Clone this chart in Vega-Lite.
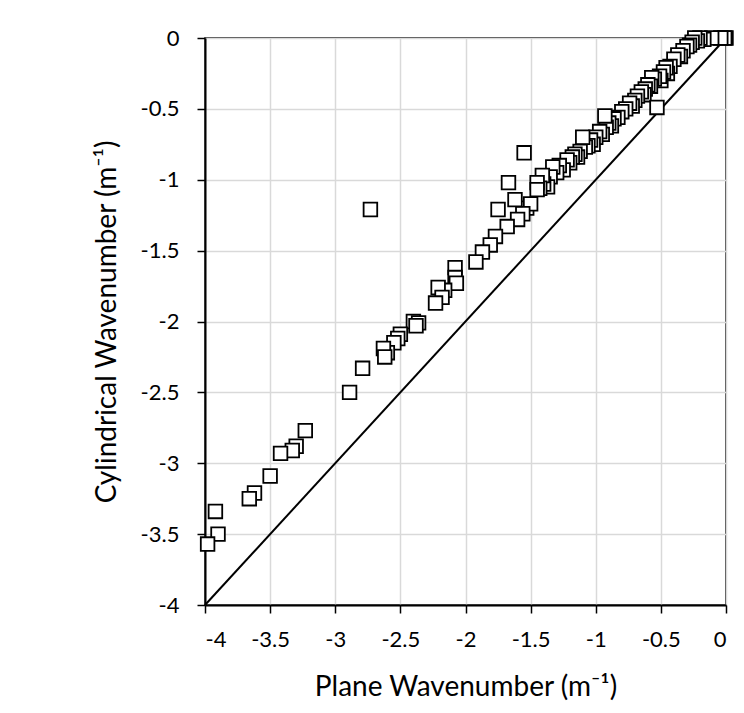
{
  "$schema": "https://vega.github.io/schema/vega-lite/v6.json",
  "width": 521,
  "height": 567,
  "autosize": {"type": "none"},
  "padding": {"left": 205, "top": 38, "right": 18, "bottom": 108},
  "background": "white",
  "config": {
    "view": {"stroke": "black", "strokeWidth": 1.5},
    "font": "Lato",
    "axis": {
      "grid": true,
      "gridColor": "#d9d9d9",
      "gridWidth": 1.5,
      "domain": true,
      "domainColor": "black",
      "domainWidth": 2,
      "ticks": true,
      "tickColor": "black",
      "tickWidth": 1.5,
      "tickSize": 8,
      "labelColor": "black",
      "labelFontSize": 22,
      "labelFont": "Lato",
      "titleColor": "black",
      "titleFont": "Lato",
      "titleFontSize": 28,
      "titleFontWeight": "normal",
      "labelExpr": "datum.value + ''"
    }
  },
  "datasets": {
    "diag": [{"x": -4, "y": -4}, {"x": 0, "y": 0}],
    "pts": [
      {"x": 0, "y": 0}, {"x": -0.01, "y": 0}, {"x": -0.04, "y": 0}, {"x": -0.11, "y": 0},
      {"x": -0.17, "y": -0.01}, {"x": -0.2, "y": 0}, {"x": -0.22, "y": -0.02}, {"x": -0.24, "y": 0}, {"x": -0.26, "y": -0.03},
      {"x": -0.28, "y": -0.05}, {"x": -0.3, "y": -0.06}, {"x": -0.33, "y": -0.09}, {"x": -0.35, "y": -0.13}, {"x": -0.37, "y": -0.12}, {"x": -0.4, "y": -0.15},
      {"x": -0.43, "y": -0.2}, {"x": -0.45, "y": -0.25}, {"x": -0.46, "y": -0.21}, {"x": -0.48, "y": -0.24}, {"x": -0.5, "y": -0.3}, {"x": -0.51, "y": -0.27},
      {"x": -0.55, "y": -0.29}, {"x": -0.57, "y": -0.28}, {"x": -0.58, "y": -0.34}, {"x": -0.6, "y": -0.33}, {"x": -0.62, "y": -0.36}, {"x": -0.63, "y": -0.4},
      {"x": -0.65, "y": -0.38}, {"x": -0.68, "y": -0.41}, {"x": -0.7, "y": -0.44}, {"x": -0.72, "y": -0.48}, {"x": -0.74, "y": -0.46},
      {"x": -0.77, "y": -0.5}, {"x": -0.8, "y": -0.52}, {"x": -0.83, "y": -0.56}, {"x": -0.86, "y": -0.57}, {"x": -0.88, "y": -0.62},
      {"x": -0.9, "y": -0.6}, {"x": -0.92, "y": -0.63}, {"x": -0.93, "y": -0.55}, {"x": -0.95, "y": -0.68}, {"x": -0.97, "y": -0.66},
      {"x": -1.0, "y": -0.7}, {"x": -1.02, "y": -0.75}, {"x": -1.04, "y": -0.72}, {"x": -1.06, "y": -0.76}, {"x": -1.08, "y": -0.77}, {"x": -1.1, "y": -0.7},
      {"x": -1.12, "y": -0.8}, {"x": -1.14, "y": -0.84}, {"x": -1.16, "y": -0.82}, {"x": -1.18, "y": -0.84}, {"x": -1.2, "y": -0.88}, {"x": -1.22, "y": -0.86},
      {"x": -1.25, "y": -0.93}, {"x": -1.28, "y": -0.9}, {"x": -1.3, "y": -0.95}, {"x": -1.33, "y": -0.91}, {"x": -1.35, "y": -0.98},
      {"x": -1.37, "y": -1.05}, {"x": -1.4, "y": -1.03}, {"x": -1.41, "y": -0.97}, {"x": -1.43, "y": -1.06}, {"x": -1.45, "y": -1.02}, {"x": -1.45, "y": -1.07},
      {"x": -0.53, "y": -0.49}, {"x": -1.55, "y": -0.81}, {"x": -1.67, "y": -1.02}, {"x": -1.53, "y": -1.2},
      {"x": -1.5, "y": -1.17}, {"x": -1.56, "y": -1.24}, {"x": -1.6, "y": -1.28}, {"x": -1.62, "y": -1.14},
      {"x": -1.68, "y": -1.33}, {"x": -1.75, "y": -1.21}, {"x": -1.77, "y": -1.4}, {"x": -1.81, "y": -1.46},
      {"x": -1.87, "y": -1.51}, {"x": -1.92, "y": -1.58}, {"x": -2.08, "y": -1.62}, {"x": -2.08, "y": -1.69},
      {"x": -2.07, "y": -1.73}, {"x": -2.16, "y": -1.78}, {"x": -2.21, "y": -1.76}, {"x": -2.18, "y": -1.83},
      {"x": -2.23, "y": -1.87}, {"x": -2.4, "y": -2.0}, {"x": -2.36, "y": -2.01}, {"x": -2.38, "y": -2.03},
      {"x": -2.5, "y": -2.09}, {"x": -2.52, "y": -2.12}, {"x": -2.55, "y": -2.15}, {"x": -2.6, "y": -2.22},
      {"x": -2.63, "y": -2.19}, {"x": -2.62, "y": -2.25}, {"x": -2.73, "y": -1.21}, {"x": -2.79, "y": -2.33},
      {"x": -2.89, "y": -2.5}, {"x": -3.23, "y": -2.77}, {"x": -3.3, "y": -2.88}, {"x": -3.33, "y": -2.91},
      {"x": -3.42, "y": -2.93}, {"x": -3.5, "y": -3.09}, {"x": -3.62, "y": -3.21}, {"x": -3.66, "y": -3.25},
      {"x": -3.92, "y": -3.34}, {"x": -3.9, "y": -3.5}, {"x": -3.98, "y": -3.57}
    ]
  },
  "layer": [
    {
      "data": {"name": "diag"},
      "mark": {"type": "line", "color": "black", "strokeWidth": 2},
      "encoding": {
        "x": {
          "field": "x", "type": "quantitative",
          "scale": {"domain": [-4, 0], "nice": false, "zero": false},
          "axis": {
            "values": [-4, -3.5, -3, -2.5, -2, -1.5, -1, -0.5, 0],
            "title": "Plane Wavenumber (m⁻¹)",
            "labelPadding": 16,
            "titleX": 260.5,
            "titleY": 90,
            "titleAlign": "center",
            "titleBaseline": "alphabetic"
          }
        },
        "y": {
          "field": "y", "type": "quantitative",
          "scale": {"domain": [-4, 0], "nice": false, "zero": false},
          "axis": {
            "values": [-4, -3.5, -3, -2.5, -2, -1.5, -1, -0.5, 0],
            "title": "Cylindrical Wavenumber (m⁻¹)",
            "labelPadding": 18,
            "titleX": -90,
            "titleY": 283.5,
            "titleAngle": -90,
            "titleAlign": "center",
            "titleBaseline": "alphabetic"
          }
        }
      }
    },
    {
      "data": {"name": "pts"},
      "mark": {"type": "square", "size": 185, "filled": true, "fill": "white", "stroke": "black", "strokeWidth": 1.8, "opacity": 1},
      "encoding": {
        "x": {"field": "x", "type": "quantitative"},
        "y": {"field": "y", "type": "quantitative"}
      }
    }
  ]
}
